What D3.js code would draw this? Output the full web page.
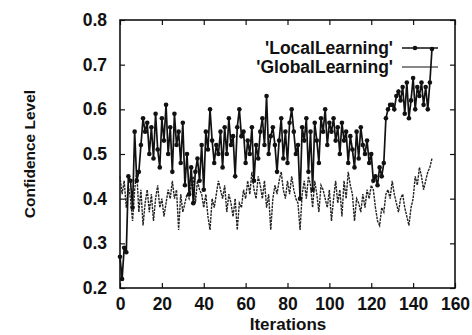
<!DOCTYPE html>
<html>
<head>
<meta charset="utf-8">
<script src="https://cdn.jsdelivr.net/npm/d3@7"></script>
<style>
  html, body { margin: 0; padding: 0; background: #fff; overflow: hidden; }
  svg { display: block; }
  text { font-family: "Liberation Sans", Arial, sans-serif; font-weight: bold; fill: #111; }
</style>
</head>
<body>
<div id="chart"></div>
<script>
// values
const localLearning = [
  0.27, 0.22, 0.29, 0.28, 0.45, 0.44, 0.38, 0.55, 0.44, 0.46,
  0.52, 0.58, 0.55, 0.57, 0.50, 0.56, 0.49, 0.59, 0.51, 0.47,
  0.58, 0.53, 0.61, 0.50, 0.56, 0.46, 0.59, 0.52, 0.55, 0.48,
  0.57, 0.43, 0.50, 0.41, 0.47, 0.39, 0.46, 0.49, 0.44, 0.52,
  0.42, 0.55, 0.51, 0.60, 0.53, 0.48, 0.52, 0.50, 0.55, 0.47,
  0.56, 0.50, 0.58, 0.52, 0.54, 0.45, 0.56, 0.60, 0.54, 0.55,
  0.48, 0.53, 0.50, 0.56, 0.44, 0.52, 0.49, 0.55, 0.58, 0.52,
  0.63, 0.50, 0.54, 0.56, 0.52, 0.46, 0.53, 0.58, 0.49, 0.55,
  0.48, 0.57, 0.60, 0.55, 0.50, 0.52, 0.40, 0.56, 0.53, 0.58,
  0.46, 0.55, 0.42, 0.57, 0.53, 0.48, 0.58, 0.55, 0.60, 0.52,
  0.57, 0.55, 0.58, 0.53, 0.56, 0.50, 0.57, 0.53, 0.55, 0.48,
  0.54, 0.51, 0.47, 0.55, 0.49, 0.56, 0.52, 0.50, 0.53, 0.48,
  0.50, 0.44, 0.45, 0.43, 0.47, 0.45, 0.48, 0.58, 0.60, 0.61,
  0.61, 0.60, 0.63, 0.64, 0.62, 0.65, 0.59, 0.66, 0.58, 0.62,
  0.67, 0.60, 0.65, 0.63, 0.66, 0.61, 0.65, 0.60, 0.66, 0.735
];

const globalLearning = [
  0.45, 0.41, 0.44, 0.38, 0.43, 0.40, 0.35, 0.42, 0.46, 0.37,
  0.42, 0.34, 0.39, 0.42, 0.37, 0.41, 0.35, 0.40, 0.43, 0.38,
  0.40, 0.36, 0.39, 0.42, 0.40, 0.44, 0.40, 0.42, 0.33, 0.41,
  0.37, 0.39, 0.41, 0.40, 0.43, 0.45, 0.39, 0.44, 0.42, 0.41,
  0.38, 0.41, 0.36, 0.33, 0.40, 0.38, 0.41, 0.44, 0.42, 0.40,
  0.43, 0.37, 0.41, 0.39, 0.36, 0.40, 0.33, 0.39, 0.38, 0.42,
  0.40, 0.44, 0.41, 0.46, 0.42, 0.40, 0.45, 0.43, 0.40, 0.44,
  0.38, 0.41, 0.33, 0.40, 0.43, 0.41, 0.44, 0.46, 0.42, 0.40,
  0.44, 0.41, 0.45, 0.42, 0.40, 0.39, 0.33, 0.41, 0.44, 0.40,
  0.45, 0.43, 0.38, 0.44, 0.41, 0.37, 0.43, 0.42, 0.40, 0.38,
  0.42, 0.35, 0.40, 0.44, 0.39, 0.42, 0.36, 0.44, 0.40, 0.46,
  0.43, 0.41, 0.35, 0.40, 0.39, 0.37, 0.41, 0.38, 0.42, 0.40,
  0.43, 0.42, 0.38, 0.35, 0.34, 0.38, 0.37, 0.41, 0.42, 0.40,
  0.44, 0.41, 0.39, 0.37, 0.40, 0.41, 0.38, 0.36, 0.34, 0.38,
  0.40, 0.45, 0.43, 0.47, 0.45, 0.42, 0.44, 0.46, 0.47, 0.49
];

const xTicks = [0, 20, 40, 60, 80, 100, 120, 140, 160];
const yTicks = [0.2, 0.3, 0.4, 0.5, 0.6, 0.7, 0.8];
const seriesNames = ["'LocalLearning'", "'GlobalLearning'"];

const width = 472, height = 335;
const margin = { top: 20, right: 17, bottom: 47, left: 120 };
const innerWidth = width - margin.left - margin.right;
const innerHeight = height - margin.top - margin.bottom;

const svg = d3.select("#chart")
  .append("svg")
  .attr("width", width)
  .attr("height", height);

const inner = svg.append("g")
  .attr("transform", `translate(${margin.left},${margin.top})`);

// scales
const x = d3.scaleLinear().domain([0, 160]).range([0, innerWidth]);
const y = d3.scaleLinear().domain([0.2, 0.8]).range([innerHeight, 0]);

// axes, ticks pointing in, mirrored on top/right
const styleAxis = g => {
  g.select(".domain").remove();
  g.selectAll(".tick line").attr("stroke", "#111").attr("stroke-width", 1.2);
};

inner.append("g")
  .attr("transform", `translate(0,${innerHeight})`)
  .call(d3.axisBottom(x).tickValues(xTicks).tickSizeInner(-5).tickPadding(10))
  .call(styleAxis)
  .call(g => g.selectAll("text").attr("font-size", 17.5).attr("fill", "#111"));

inner.append("g")
  .call(d3.axisTop(x).tickValues(xTicks).tickSizeInner(-5).tickFormat(""))
  .call(styleAxis);

inner.append("g")
  .call(d3.axisLeft(y).tickValues(yTicks).tickSizeInner(-5).tickPadding(13).tickFormat(d3.format(".1f")))
  .call(styleAxis)
  .call(g => g.selectAll("text").attr("font-size", 17.5).attr("fill", "#111"));

inner.append("g")
  .attr("transform", `translate(${innerWidth},0)`)
  .call(d3.axisRight(y).tickValues(yTicks).tickSizeInner(-5).tickFormat(""))
  .call(styleAxis);

// frame
inner.append("rect")
  .attr("width", innerWidth)
  .attr("height", innerHeight)
  .attr("fill", "none")
  .attr("stroke", "#111")
  .attr("stroke-width", 1.6);

// lines
const line = d3.line()
  .x((d, i) => x(i))
  .y(d => y(d));

inner.append("path")
  .datum(globalLearning)
  .attr("d", line)
  .attr("fill", "none")
  .attr("stroke", "#222")
  .attr("stroke-width", 1.4)
  .attr("stroke-dasharray", "2.5,1");

inner.append("path")
  .datum(localLearning)
  .attr("d", line)
  .attr("fill", "none")
  .attr("stroke", "#111")
  .attr("stroke-width", 1.7);

inner.selectAll(".pt")
  .data(localLearning)
  .join("circle")
    .attr("class", "pt")
    .attr("cx", (d, i) => x(i))
    .attr("cy", d => y(d))
    .attr("r", 2.3)
    .attr("fill", "#111");

// legend
const legend = svg.append("g");
const legendRows = [
  { name: seriesNames[0], yPos: 48, dash: null, w: 1.7, dot: true },
  { name: seriesNames[1], yPos: 67, dash: null, w: 1.2, dot: false }
];
legendRows.forEach(r => {
  legend.append("text")
    .text(r.name)
    .attr("x", 393)
    .attr("y", r.yPos + 6)
    .attr("text-anchor", "end")
    .attr("font-size", 17.5);
  legend.append("line")
    .attr("x1", 402).attr("x2", 438)
    .attr("y1", r.yPos).attr("y2", r.yPos)
    .attr("stroke", "#111")
    .attr("stroke-width", r.w)
    .attr("stroke-dasharray", r.dash);
  if (r.dot) {
    legend.append("circle").attr("cx", 415).attr("cy", r.yPos).attr("r", 2.3).attr("fill", "#111");
  }
});

// axis titles
svg.append("text")
  .text("Iterations")
  .attr("x", 288)
  .attr("y", 330)
  .attr("text-anchor", "middle")
  .attr("font-size", 17);

svg.append("text")
  .text("Confidence Level")
  .attr("transform", `translate(35,${margin.top + innerHeight / 2}) rotate(-90)`)
  .attr("text-anchor", "middle")
  .attr("font-size", 15.5);
</script>
</body>
</html>
